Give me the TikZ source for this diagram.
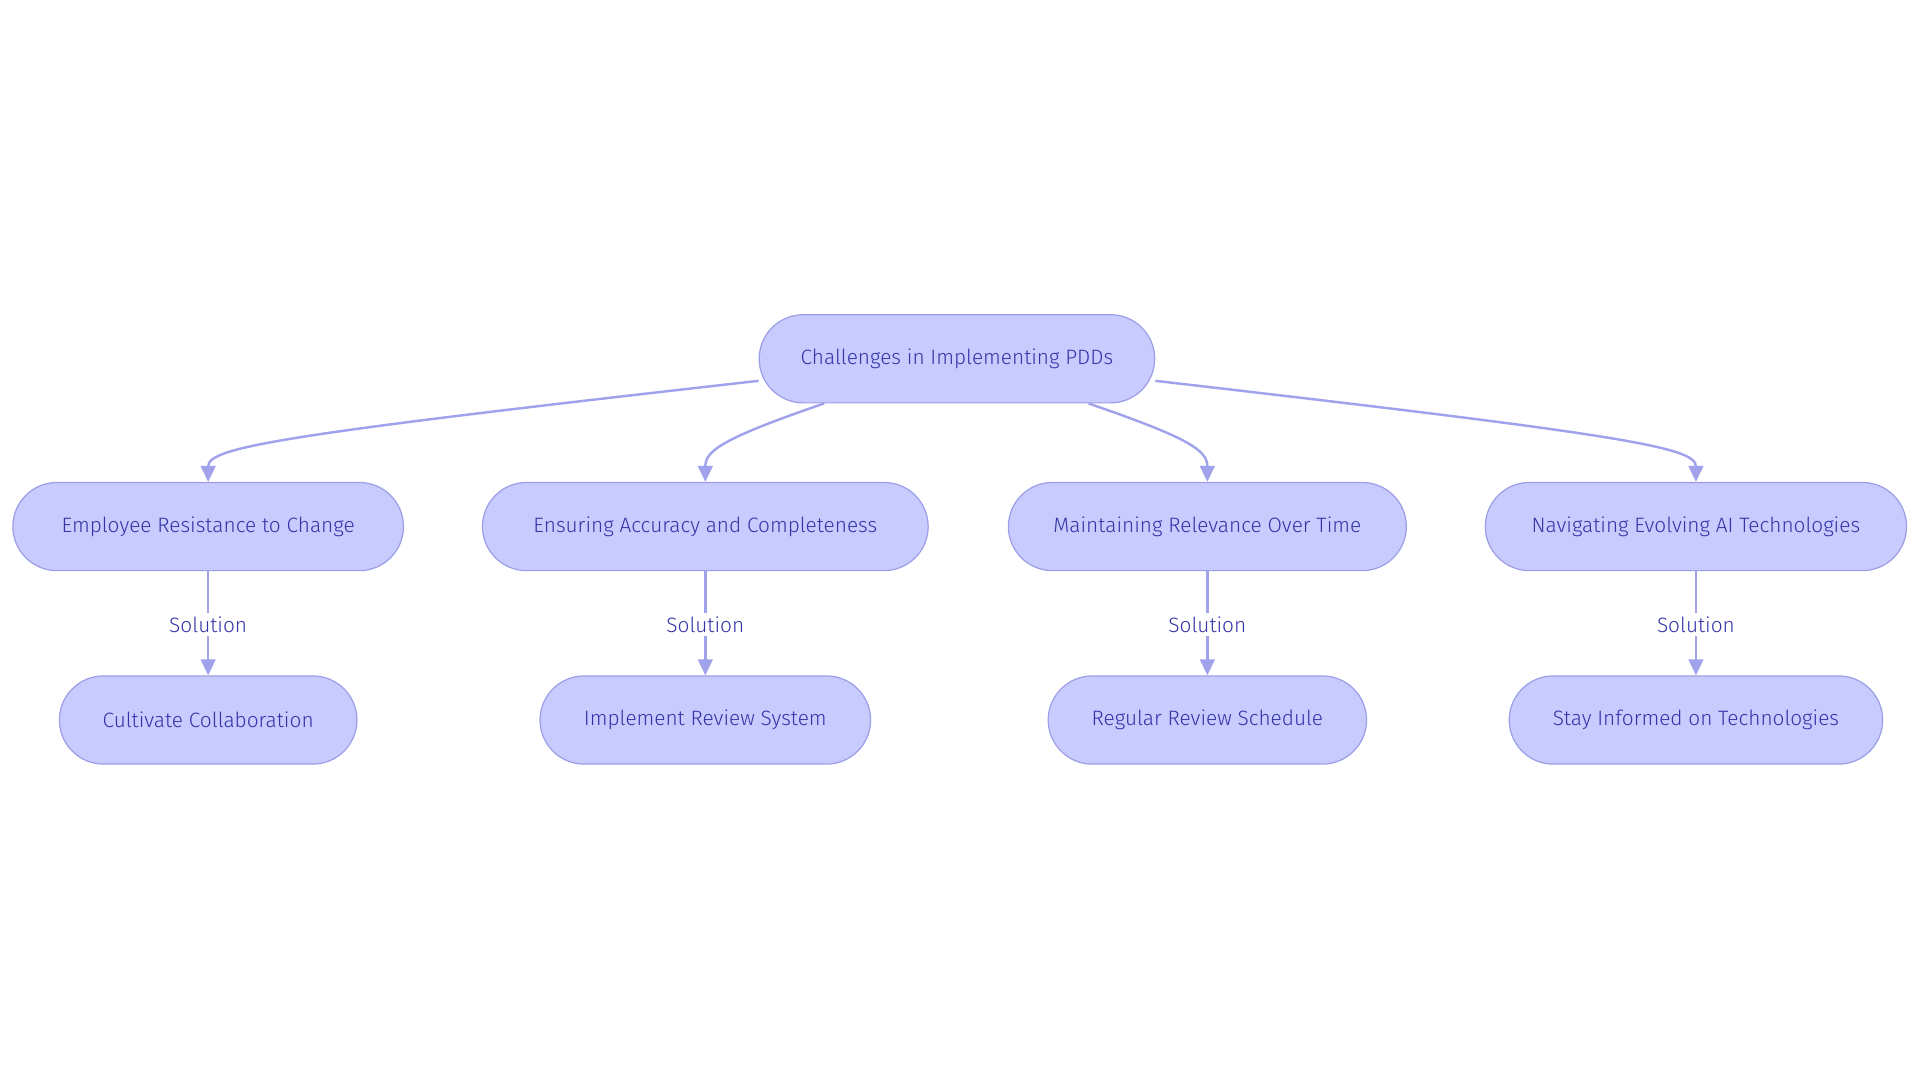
\documentclass[tikz,border=0pt]{standalone}
\usepackage{fontspec}
\setmainfont{Fira Sans}[UprightFont=* Light]
\usetikzlibrary{arrows.meta}
\definecolor{nfill}{HTML}{C8CBFE}
\definecolor{nborder}{HTML}{9C9FE8}
\definecolor{ntext}{HTML}{3434A8}
\definecolor{eline}{HTML}{A0A3EC}
\begin{document}
\begin{tikzpicture}[x=1pt,y=-1pt,
  box/.style={draw=nborder,fill=nfill,rounded corners=36pt,line width=1pt,minimum height=72pt,text=ntext,font=\fontsize{17}{20}\selectfont,inner sep=0pt},
  edge/.style={draw=eline,line width=2pt,-{Triangle[width=12pt,length=13pt]}},
  lab/.style={fill=white,text=ntext,font=\fontsize{17}{20}\selectfont,inner sep=3pt}]
\useasboundingbox (0,0) rectangle (1568,884.5);
\node[box,minimum width=323pt] (top) at (781.5,293) {Challenges in Implementing PDDs};
\node[box,minimum width=319pt] (a) at (170,430) {Employee Resistance to Change};
\node[box,minimum width=364pt] (b) at (576,430) {Ensuring Accuracy and Completeness};
\node[box,minimum width=325pt] (c) at (986,430) {Maintaining Relevance Over Time};
\node[box,minimum width=344pt] (d) at (1385,430) {Navigating Evolving AI Technologies};
\node[box,minimum width=243pt] (a2) at (170,588) {Cultivate Collaboration};
\node[box,minimum width=270pt] (b2) at (576,588) {Implement Review System};
\node[box,minimum width=260pt] (c2) at (986,588) {Regular Review Schedule};
\node[box,minimum width=305pt] (d2) at (1385,588) {Stay Informed on Technologies};
\draw[edge] (top.west|-0,311) .. controls (230,355) and (170,365) .. (a.north);
\draw[edge] (673,329.5) .. controls (590,358) and (576,368) .. (b.north);
\draw[edge] (889,329.5) .. controls (972,358) and (986,368) .. (c.north);
\draw[edge] (top.east|-0,311) .. controls (1325,355) and (1385,365) .. (d.north);
\foreach \p/\q in {a/a2,b/b2,c/c2,d/d2}
  \draw[edge] (\p) -- node[lab,pos=0.5,yshift=-1pt]{Solution} (\q);
\end{tikzpicture}
\end{document}
